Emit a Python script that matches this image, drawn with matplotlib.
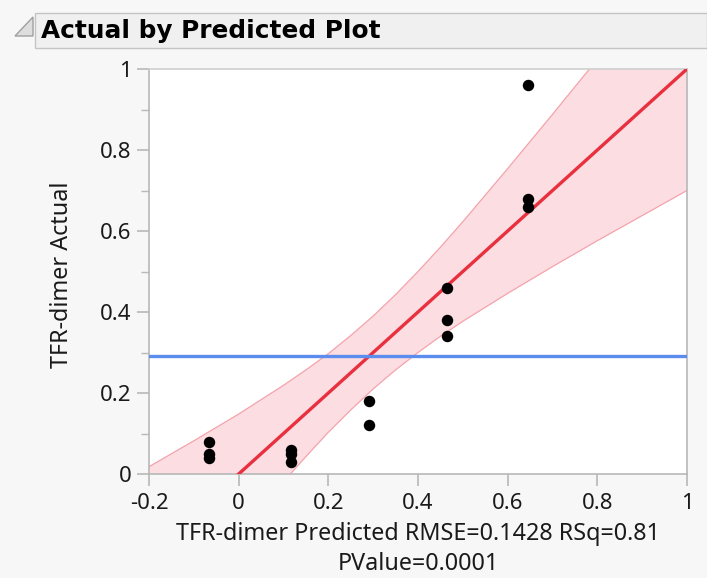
import numpy as np
import matplotlib
matplotlib.use("Agg")
import matplotlib.pyplot as plt
from matplotlib.patches import Rectangle, Polygon

plt.rcParams['font.family'] = ['Noto Sans', 'DejaVu Sans']

# predicted vs actual values
predicted = [-0.066, -0.066, -0.066, 0.117, 0.117, 0.117, 0.291, 0.291,
             0.465, 0.465, 0.465, 0.645, 0.645, 0.645]
actual = [0.08, 0.05, 0.04, 0.06, 0.05, 0.03, 0.18, 0.12,
          0.46, 0.38, 0.34, 0.96, 0.68, 0.66]
mean_actual = 0.292

# confidence band half-width read at x positions
band_x = [-0.2, -0.1, 0.0, 0.1, 0.15, 0.2, 0.25, 0.3, 0.35, 0.4, 0.45,
          0.5, 0.6, 0.7, 0.8, 0.9, 1.0]
band_half = [0.218, 0.182, 0.148, 0.119, 0.107, 0.097, 0.092, 0.090, 0.093,
             0.100, 0.110, 0.123, 0.154, 0.188, 0.224, 0.262, 0.300]

xticks = [-0.2, 0, 0.2, 0.4, 0.6, 0.8, 1]
xtick_labels = ["-0.2", "0", "0.2", "0.4", "0.6", "0.8", "1"]
yticks = [0, 0.2, 0.4, 0.6, 0.8, 1]
ytick_labels = ["0", "0.2", "0.4", "0.6", "0.8", "1"]

W, H = 707, 578
fig = plt.figure(figsize=(W / 100, H / 100), dpi=100, facecolor="#f7f7f7")

# header bar
fig.patches.append(Rectangle((35 / W, 1 - 48 / H), (W - 35) / W, 35 / H,
                             transform=fig.transFigure, facecolor="#f0f0f0",
                             edgecolor="#c4c4c4", lw=1))
fig.patches.append(Polygon([(15 / W, 1 - 36 / H), (33 / W, 1 - 17 / H), (33 / W, 1 - 36 / H)],
                           closed=True, transform=fig.transFigure,
                           facecolor="#dedede", edgecolor="#a0a0a0", lw=1))
fig.text(41 / W, 1 - 31 / H, "Actual by Predicted Plot", fontsize=17.8,
         fontweight="bold", family="DejaVu Sans", va="center", ha="left",
         color="black")

ax = fig.add_axes([149 / W, 1 - 474 / H, 538 / W, 405 / H])
ax.set_facecolor("white")

bx = np.array(band_x)
bh = np.array(band_half)
ax.fill_between(bx, bx - bh, bx + bh, facecolor="#fcdde1", edgecolor="none", zorder=1)
ax.plot(bx, bx - bh, color="#f4a3ab", lw=0.9, zorder=2)
ax.plot(bx, bx + bh, color="#f4a3ab", lw=0.9, zorder=2)

ax.plot([-0.2, 1], [-0.2, 1], color="#e8303f", lw=2.4, zorder=3)
ax.axhline(mean_actual, color="#5b8def", lw=2.4, zorder=3)

ax.scatter(predicted, actual, s=68, color="black", zorder=4, linewidths=0)

ax.set_xlim(-0.2, 1)
ax.set_ylim(0, 1)
ax.set_xticks(xticks)
ax.set_xticklabels(xtick_labels)
ax.set_yticks(yticks)
ax.set_yticklabels(ytick_labels)
ax.set_yticks(np.arange(0.1, 1.0, 0.2), minor=True)

for s in ax.spines.values():
    s.set_color("#b8b8b8")
    s.set_linewidth(1.2)
ax.spines["top"].set_color("#cfcfcf")

ax.tick_params(axis="both", which="major", length=8.6, width=1.2, color="#b8b8b8",
               labelsize=16, labelcolor="#1a1a1a")
ax.tick_params(axis="x", which="major", pad=5)
ax.tick_params(axis="y", which="major", pad=4)
ax.tick_params(axis="y", which="minor", length=5.5, width=1, color="#b8b8b8")

fig.text(418 / W, 1 - 534 / H, "TFR-dimer Predicted RMSE=0.1428 RSq=0.81",
         fontsize=16.8, ha="center", va="center", color="#1a1a1a")
fig.text(418 / W, 1 - 564 / H, "PValue=0.0001",
         fontsize=16.8, ha="center", va="center", color="#1a1a1a")
fig.text(62 / W, 1 - 275 / H, "TFR-dimer Actual", fontsize=16.8, rotation=90,
         ha="center", va="center", color="#1a1a1a")

fig.savefig("out.png", dpi=100, facecolor=fig.get_facecolor())
